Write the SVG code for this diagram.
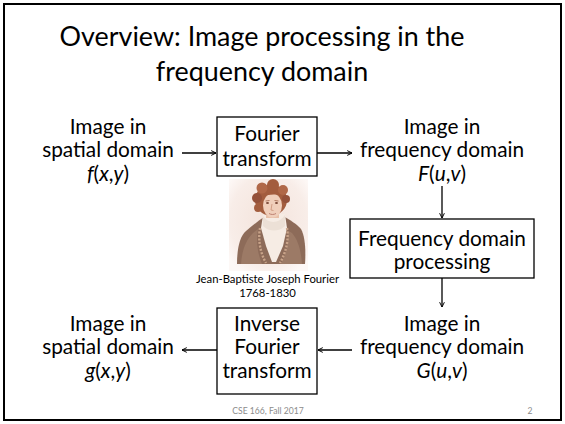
<svg xmlns="http://www.w3.org/2000/svg" width="565" height="424" viewBox="0 0 565 424">
<defs>
<style>
text{font-family:Lato,"Open Sans","Liberation Sans",sans-serif;fill:#000}
.t{font-size:26.9px}
.b{font-size:20.8px;text-anchor:middle}
.c{font-size:11.3px;text-anchor:middle}
.f{font-size:8.6px;fill:#8c8c8c}
.i{font-style:italic}
.box{fill:#fff;stroke:#000;stroke-width:1.3}
.ln{stroke:#000;stroke-width:1.3;fill:none}
</style>
<marker id="ah" viewBox="0 0 10 10" refX="9" refY="5" markerWidth="6" markerHeight="6" markerUnits="userSpaceOnUse" orient="auto">
<path d="M1,1 L9,5 L1,9" fill="none" stroke="#000" stroke-width="1.6"/>
</marker>
<radialGradient id="bg" cx="0.5" cy="0.45" r="0.65">
<stop offset="0" stop-color="#f3e3db"/>
<stop offset="0.75" stop-color="#f8ede8"/>
<stop offset="1" stop-color="#fdf8f6"/>
</radialGradient>
</defs>
<rect x="0" y="0" width="565" height="424" fill="#fff"/>
<rect x="4" y="4" width="557" height="416" fill="none" stroke="#000" stroke-width="2"/>

<g id="title">
<text class="t" x="262" y="46" text-anchor="middle">Overview: Image processing in the</text>
<text class="t" x="262" y="81" text-anchor="middle">frequency domain</text>
</g>

<g id="connectors">
<line class="ln" x1="182" y1="153" x2="216" y2="153" marker-end="url(#ah)"/>
<line class="ln" x1="317" y1="153" x2="352" y2="153" marker-end="url(#ah)"/>
<line class="ln" x1="442" y1="186" x2="442" y2="218" marker-end="url(#ah)"/>
<line class="ln" x1="442" y1="278" x2="442" y2="307" marker-end="url(#ah)"/>
<line class="ln" x1="352" y1="350" x2="318" y2="350" marker-end="url(#ah)"/>
<line class="ln" x1="217" y1="350" x2="182" y2="350" marker-end="url(#ah)"/>
</g>

<g id="spatial-in">
<text class="b" x="108" y="134">Image in</text>
<text class="b" x="108" y="157">spatial domain</text>
<text class="b" x="108" y="181"><tspan class="i">f</tspan>(<tspan class="i">x</tspan>,<tspan class="i">y</tspan>)</text>
</g>

<g id="fourier">
<rect class="box" x="217" y="117" width="100" height="59"/>
<text class="b" x="267" y="141">Fourier</text>
<text class="b" x="267" y="166">transform</text>
</g>

<g id="freq-in">
<text class="b" x="442" y="134">Image in</text>
<text class="b" x="442" y="157">frequency domain</text>
<text class="b" x="442" y="181"><tspan class="i">F</tspan>(<tspan class="i">u</tspan>,<tspan class="i">v</tspan>)</text>
</g>

<g id="processing">
<rect class="box" x="350" y="219" width="184" height="59"/>
<text class="b" x="442" y="246">Frequency domain</text>
<text class="b" x="442" y="269">processing</text>
</g>

<g id="freq-out">
<text class="b" x="442" y="331">Image in</text>
<text class="b" x="442" y="354">frequency domain</text>
<text class="b" x="442" y="378"><tspan class="i">G</tspan>(<tspan class="i">u</tspan>,<tspan class="i">v</tspan>)</text>
</g>

<g id="inverse">
<rect class="box" x="217" y="308" width="100" height="86"/>
<text class="b" x="267" y="331">Inverse</text>
<text class="b" x="267" y="354">Fourier</text>
<text class="b" x="267" y="378">transform</text>
</g>

<g id="spatial-out">
<text class="b" x="108" y="331">Image in</text>
<text class="b" x="108" y="354">spatial domain</text>
<text class="b" x="108" y="378"><tspan class="i">g</tspan>(<tspan class="i">x</tspan>,<tspan class="i">y</tspan>)</text>
</g>

<g id="portrait">
<rect x="229" y="179" width="79" height="92" fill="url(#bg)"/>
<!-- coat -->
<path d="M237,264 C237,248 240,236 246,231 C252,226 258,221 264,217 L283,216 C290,220 297,224 301,229 C305,236 306,250 305,264 Z" fill="#8d6b59"/>
<path d="M241,264 C242,250 246,240 253,233 L258,229 C256,240 257,252 262,264 Z" fill="#9c7a66"/>
<path d="M302,264 C301,250 298,240 292,233 L287,230 C289,241 287,252 281,264 Z" fill="#9c7a66"/>
<!-- shirt / cravat -->
<path d="M263,215 L285,214 L287,228 L283,246 L276,262 L272,262 L266,246 L261,228 Z" fill="#f6ece4"/>
<path d="M263,216 C268,224 279,224 285,215 L285,226 C279,232 269,232 263,226 Z" fill="#ece0d6"/>
<!-- ornate lapel edges -->
<path d="M260,228 C258,240 260,252 266,263" fill="none" stroke="#c9a48a" stroke-width="2.4" stroke-dasharray="2 1.5"/>
<path d="M287,228 C289,240 286,252 280,263" fill="none" stroke="#c9a48a" stroke-width="2.4" stroke-dasharray="2 1.5"/>
<!-- neck -->
<rect x="266" y="208" width="13" height="10" fill="#e8c0a8"/>
<!-- hair -->
<ellipse cx="271" cy="200" rx="16" ry="15.5" fill="#a35d3e"/>
<circle cx="257" cy="198" r="5" fill="#94513a"/>
<circle cx="258" cy="208" r="4" fill="#a35d3e"/>
<circle cx="262" cy="188" r="5.5" fill="#b06848"/>
<circle cx="273" cy="185" r="6" fill="#a35d3e"/>
<circle cx="283" cy="190" r="5" fill="#b06848"/>
<circle cx="286" cy="199" r="4" fill="#94513a"/>
<!-- face -->
<ellipse cx="272.5" cy="205.5" rx="9.5" ry="12" fill="#f0cfbb"/>
<path d="M263,197 C266,192 276,190 282,196 C277,194 268,194 263,197 Z" fill="#a35d3e"/>
<path d="M265.5,201 L269.5,200.5 M274.5,200.5 L278.5,201" stroke="#a87058" stroke-width="0.9"/>
<ellipse cx="267.5" cy="203" rx="1.5" ry="0.9" fill="#7a4a38"/>
<ellipse cx="276.5" cy="203" rx="1.5" ry="0.9" fill="#7a4a38"/>
<path d="M272,204 L271,210 L273.5,210.5" fill="none" stroke="#c99278" stroke-width="0.8"/>
<path d="M269,213.5 C271,214.8 274,214.8 276,213.5" fill="none" stroke="#b8786a" stroke-width="0.9"/>
</g>

<g id="caption">
<text class="c" x="267.5" y="283">Jean-Baptiste Joseph Fourier</text>
<text class="c" x="267.5" y="297">1768-1830</text>
</g>

<g id="footer">
<text class="f" x="268" y="414" text-anchor="middle">CSE 166, Fall 2017</text>
<text class="f" x="530" y="414" text-anchor="middle">2</text>
</g>
</svg>
